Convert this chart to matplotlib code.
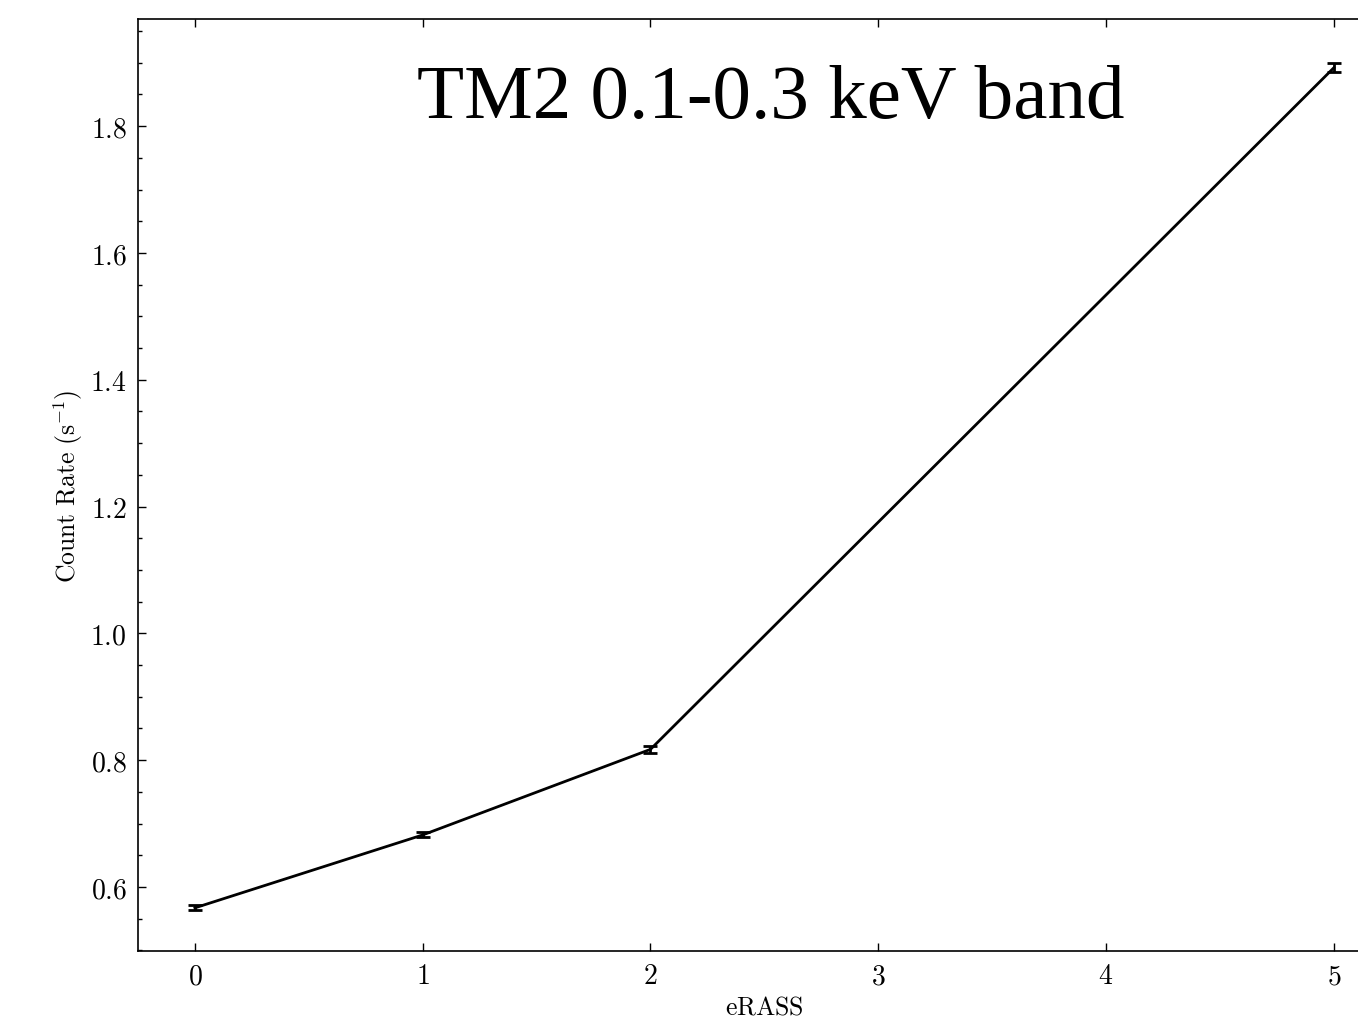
"""
    Count rate per eRASS for TM2 in the 0.1-0.3 keV band.
"""
import matplotlib
matplotlib.use("Agg")
import matplotlib.pyplot as plt
from matplotlib.ticker import MultipleLocator, FuncFormatter

ERASS = [0, 1, 2, 5]
RATE = [0.567, 0.682, 0.817, 1.892]
RATE_ERR = [0.004, 0.004, 0.005, 0.007]

TITLE = "TM2 0.1-0.3 keV band"
XTICKS = [0, 1, 2, 3, 4, 5]

plt.rcParams['mathtext.fontset'] = 'cm'
plt.rcParams['font.family'] = 'DejaVu Serif'

fig = plt.figure(figsize=(13.58, 10.2), dpi=100)
ax = fig.add_axes([0.1016, 0.0667, 0.9225, 0.9137])

ax.errorbar(ERASS, RATE, yerr=RATE_ERR, color='black', lw=2.0,
            capsize=5, capthick=2.0, elinewidth=2.0)

ax.set_xlim(-0.25, 5.25)
ax.set_ylim(0.499, 1.969)
ax.set_xticks(XTICKS)
ax.yaxis.set_major_locator(MultipleLocator(0.2))
ax.yaxis.set_minor_locator(MultipleLocator(0.05))

ax.xaxis.set_major_formatter(FuncFormatter(lambda v, p: r'$%d$' % round(v)))
ax.yaxis.set_major_formatter(FuncFormatter(lambda v, p: r'$%.1f$' % v))

ax.tick_params(which='both', direction='in', top=True, right=True,
               labelsize=20, width=1.0)
ax.tick_params(which='major', length=6, pad=8)
ax.tick_params(which='minor', length=3)
for sp in ax.spines.values():
    sp.set_linewidth(1.2)

ax.set_xlabel(r'$\mathrm{eRASS}$', fontsize=18.5, labelpad=3)
ax.set_ylabel(r'$\mathrm{Count\ Rate\ (s^{-1})}$', fontsize=18.5, labelpad=4)

ax.text(0.505, 0.915, TITLE, transform=ax.transAxes, ha='center', va='center',
        fontsize=55.5, family='Liberation Serif')

fig.savefig('out.png', dpi=100)
